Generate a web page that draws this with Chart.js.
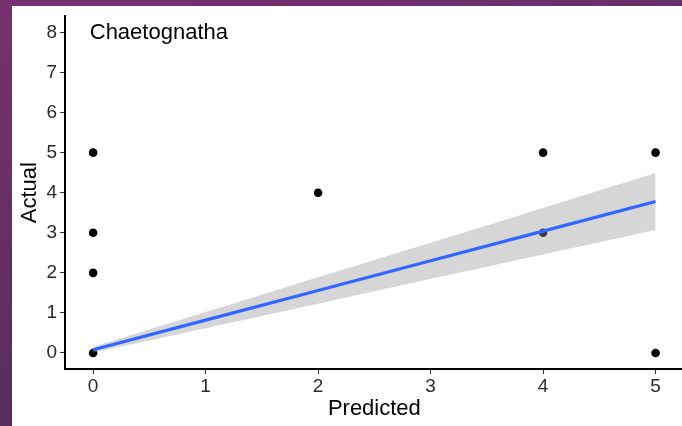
<!DOCTYPE html>
<html>
<head>
<meta charset="utf-8">
<script src="https://cdn.jsdelivr.net/npm/chart.js@4/dist/chart.umd.min.js"></script>
<style>
  html, body { margin: 0; padding: 0; width: 682px; height: 426px; overflow: hidden; }
  body { background: linear-gradient(165deg, #76316f 0%, #5e2d64 55%, #472a5a 100%); position: relative; }
  #panel { position: absolute; left: 12px; top: 6px; width: 676px; height: 420px; background: #ffffff; overflow: hidden; }
  canvas { display: block; position: absolute; left: 0; top: -4px; }
</style>
</head>
<body>
<div id="panel"><canvas id="c" width="676" height="424"></canvas></div>
<script>
// Observed counts: predicted vs actual
const predicted = [0, 0, 0, 0, 2, 4, 4, 5, 5];
const actual    = [0, 2, 3, 5, 4, 3, 5, 0, 5];

// Linear fit with its 95% confidence ribbon
const fitX     = [0, 1, 2, 3, 4, 5];
const fitY     = [0.08, 0.82, 1.56, 2.30, 3.04, 3.78];
const fitLower = [0.01, 0.62, 1.23, 1.85, 2.46, 3.07];
const fitUpper = [0.15, 1.02, 1.89, 2.75, 3.62, 4.49];

const xTicks = [0, 1, 2, 3, 4, 5];
const yTicks = [0, 1, 2, 3, 4, 5, 6, 7, 8];

const panelLabel = 'Chaetognatha';
const xTitle = 'Predicted';
const yTitle = 'Actual';

const pts = (xs, ys) => xs.map((x, i) => ({ x: x, y: ys[i] }));
const FONT = '"Liberation Sans", Arial, sans-serif';

const textPlugin = {
  id: 'plotText',
  afterDraw(chart) {
    const { ctx, chartArea, scales } = chart;
    ctx.save();
    ctx.fillStyle = '#000000';
    // panel label in the upper left
    ctx.font = '22px ' + FONT;
    ctx.textAlign = 'left';
    ctx.textBaseline = 'middle';
    ctx.fillText(panelLabel, scales.x.getPixelForValue(-0.03), scales.y.getPixelForValue(8) + 1);
    // axis titles
    ctx.font = '22px ' + FONT;
    ctx.textAlign = 'center';
    ctx.fillText(xTitle, (chartArea.left + chartArea.right) / 2, chartArea.bottom + 40);
    ctx.translate(18, (chartArea.top + chartArea.bottom) / 2);
    ctx.rotate(-Math.PI / 2);
    ctx.fillText(yTitle, 0, 0);
    ctx.restore();
  }
};

new Chart(document.getElementById('c'), {
  type: 'scatter',
  data: {
    datasets: [
      {
        label: 'observed',
        data: pts(predicted, actual),
        backgroundColor: '#000000',
        borderWidth: 0,
        pointRadius: 4.3,
        order: 3
      },
      {
        label: 'upper',
        type: 'line',
        data: pts(fitX, fitUpper),
        borderWidth: 0,
        borderColor: 'rgba(0,0,0,0)',
        pointRadius: 0,
        fill: '+1',
        backgroundColor: 'rgba(153,153,153,0.4)',
        tension: 0.3,
        order: 2
      },
      {
        label: 'lower',
        type: 'line',
        data: pts(fitX, fitLower),
        borderWidth: 0,
        borderColor: 'rgba(0,0,0,0)',
        pointRadius: 0,
        fill: false,
        tension: 0.3,
        order: 2
      },
      {
        label: 'fit',
        type: 'line',
        data: pts(fitX, fitY),
        borderColor: '#3366FF',
        borderWidth: 3.2,
        pointRadius: 0,
        fill: false,
        order: 1
      }
    ]
  },
  options: {
    responsive: false,
    animation: false,
    devicePixelRatio: 1,
    layout: { padding: { top: 4, right: 0, left: 0, bottom: 0 } },
    plugins: { legend: { display: false }, tooltip: { enabled: false } },
    scales: {
      x: {
        type: 'linear',
        min: -0.25,
        max: 5.25,
        afterBuildTicks: s => { s.ticks = xTicks.map(v => ({ value: v })); },
        afterFit: s => { s.height = 57; },
        grid: { drawOnChartArea: false, tickLength: 5, color: '#333333', tickWidth: 1 },
        border: { display: true, color: '#000000', width: 2 },
        ticks: { color: '#2b2b2b', font: { family: FONT, size: 19 }, padding: 1, maxRotation: 0 }
      },
      y: {
        type: 'linear',
        min: -0.4,
        max: 8.4,
        afterBuildTicks: s => { s.ticks = yTicks.map(v => ({ value: v })); },
        afterFit: s => { s.width = 53; },
        grid: { drawOnChartArea: false, tickLength: 5, color: '#333333', tickWidth: 1 },
        border: { display: true, color: '#000000', width: 2 },
        ticks: { color: '#2b2b2b', font: { family: FONT, size: 19 }, padding: 3 }
      }
    }
  },
  plugins: [textPlugin]
});
</script>
</body>
</html>
